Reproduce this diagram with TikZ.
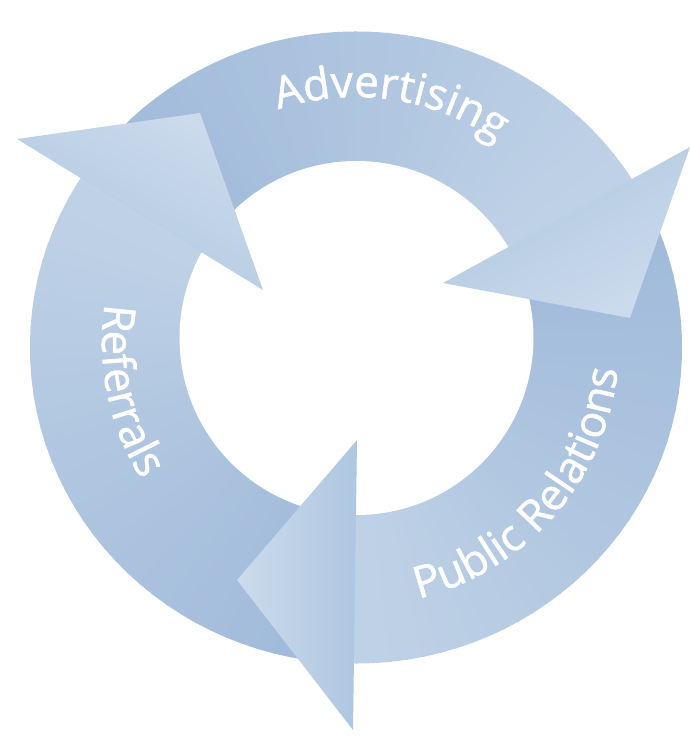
\documentclass[tikz,border=0pt]{standalone}
\usepackage{xcolor}
\usepackage{fontspec}
\usepackage{tikz}
\usetikzlibrary{decorations.text}
\usetikzlibrary{calc}

\newfontfamily\lblfamily{Open Sans}[FakeBold=1.2]
\newcommand{\lblstyle}{\lblfamily\fontsize{44}{48}\selectfont\color{white}}

\definecolor{ringdark}{RGB}{158,185,217}
\definecolor{ringlight}{RGB}{192,210,231}
\definecolor{headlight}{RGB}{204,219,236}
\definecolor{headdark}{RGB}{174,198,224}

\begin{document}
\begin{tikzpicture}[x=1pt, y=1pt]

 \useasboundingbox (-356,-393) rectangle (334,343);
 \fill[white] (-356,-393) rectangle (334,343);

 %ring, lighter towards each head
 \begin{scope}
   \clip (0,-4.5) ellipse [x radius=326, y radius=316];
   \foreach \a in {27,30,...,384} {
      \pgfmathsetmacro{\mix}{100-mod(\a-27,120)/1.2}
      \fill[ringlight!\mix!ringdark] (0,0) -- (\a:420) arc[start angle=\a, end angle=\a+3.4, radius=420] -- cycle;
   }
 \end{scope}
 %hole
 \fill[white] (0.5,5) circle[radius=177];

 %heads
 \foreach \name/\ox/\oy/\ix/\iy/\tx/\ty/\ang in {adv/334/196/87/60/274/25/-150, ref/-339/204/-93/53/-156/230/-30, pub/-3/-387/1/-97/-119/-237/90} {
    \shade[top color=headlight, bottom color=headdark, shading angle=\ang] (\ox,\oy) -- (\ix,\iy) -- (\tx,\ty) -- cycle;
 }

 %labels
 \path[decorate, decoration={text along path, text align=center, text={|\lblstyle|Advertising}}]
    (151.7:246) arc[start angle=151.7, end angle=11.7, radius=246];
 \path[decorate, decoration={text along path, text align=center, text={|\lblstyle|Referrals}}]
    (131.8:254) arc[start angle=131.8, end angle=251.8, radius=254];
 \path[decorate, decoration={text along path, text align=center, text={|\lblstyle|Public Relations}}]
    (-101:263) arc[start angle=-101, end angle=19, radius=263];

\end{tikzpicture}
\end{document}
